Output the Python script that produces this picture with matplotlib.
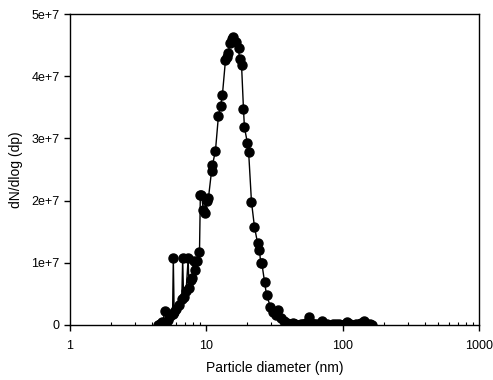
import matplotlib
matplotlib.use("Agg")
import matplotlib.pyplot as plt
from matplotlib.ticker import FixedLocator, LogLocator, NullFormatter

plt.rcParams['font.family'] = ['Liberation Sans', 'DejaVu Sans']

# particle diameter (nm)
diameter = [4.44, 4.6, 4.75, 5.0, 5.05, 5.2, 5.45, 5.65, 5.72, 5.8,
            6.0, 6.3, 6.6, 6.7, 6.8, 7.1, 7.35, 7.45, 7.7, 7.9,
            8.05, 8.3, 8.6, 8.9, 9.03, 9.2, 9.5, 9.84, 10.1, 10.35,
            10.9, 11.07, 11.65, 12.25, 12.7, 13.1, 13.8, 14.2, 14.5, 14.8,
            15.5, 15.8, 16.6, 17.2, 17.5, 18.1, 18.7, 19.0, 20.0, 20.4,
            21.4, 22.5, 23.7, 24.5, 25.0, 25.5, 26.7, 27.6, 29.5, 31.0,
            32.2, 33.3, 35.0, 37.0, 39.0, 41.0, 43.0, 45.0, 47.0, 49.0,
            51.0, 54.0, 56.3, 58.0, 61.0, 64.0, 67.0, 70.0, 73.0, 77.0,
            81.0, 85.0, 89.0, 94.0, 99.0, 104.0, 108.0, 113.0, 119.0, 125.0,
            131.0, 137.0, 143.0, 150.0, 157.0, 165.0]

# dN/dlog(dp), units of 1e7
conc = [0.0, 0.02, 0.05, 0.22, 0.03, 0.08, 0.14, 0.18, 1.07, 0.2,
        0.25, 0.32, 0.42, 1.07, 0.45, 0.55, 1.07, 0.6, 0.72, 0.75,
        1.02, 0.88, 1.03, 1.18, 2.09, 2.09, 1.85, 1.8, 2.0, 2.04,
        2.47, 2.57, 2.8, 3.36, 3.52, 3.7, 4.26, 4.31, 4.37, 4.53,
        4.6, 4.63, 4.55, 4.45, 4.27, 4.18, 3.47, 3.18, 2.92, 2.78,
        1.98, 1.58, 1.32, 1.2, 1.0, 0.99, 0.69, 0.48, 0.29, 0.2,
        0.16, 0.24, 0.11, 0.06, 0.03, 0.02, 0.03, 0.01, 0.0, 0.01,
        0.02, 0.03, 0.13, 0.03, 0.02, 0.01, 0.02, 0.06, 0.02, 0.01,
        0.0, 0.01, 0.02, 0.01, 0.0, 0.02, 0.05, 0.01, 0.0, 0.01,
        0.02, 0.03, 0.07, 0.02, 0.01, 0.0]

yticks = [0, 1e7, 2e7, 3e7, 4e7, 5e7]
ylabels = ['0', '1e+7', '2e+7', '3e+7', '4e+7', '5e+7']
xticks = [1, 10, 100, 1000]
xlabels = ['1', '10', '100', '1000']

fig = plt.figure(figsize=(4.93, 3.8), dpi=100)
ax = fig.add_axes([0.142, 0.145, 0.83, 0.818])

ax.plot(diameter, [c * 1e7 for c in conc], color='black', lw=1.0,
        marker='o', markersize=6.5, markerfacecolor='black', markeredgecolor='black')

ax.set_xscale('log')
ax.set_xlim(1, 1000)
ax.set_ylim(0, 5e7)

ax.xaxis.set_major_locator(FixedLocator(xticks))
ax.set_xticklabels(xlabels)
ax.xaxis.set_minor_locator(LogLocator(base=10, subs=range(2, 10)))
ax.xaxis.set_minor_formatter(NullFormatter())
ax.set_yticks(yticks)
ax.set_yticklabels(ylabels)

ax.tick_params(axis='x', which='major', direction='out', length=4, width=1, labelsize=9, pad=7)
ax.tick_params(axis='x', which='minor', direction='in', length=2.5, width=0.8)
ax.tick_params(axis='y', which='major', direction='out', length=4, width=1, labelsize=9)

for s in ax.spines.values():
    s.set_linewidth(1.0)

ax.set_xlabel('Particle diameter (nm)', fontsize=10, labelpad=6)
ax.set_ylabel('dN/dlog (dp)', fontsize=10, labelpad=6)

fig.savefig('out.png', dpi=100)
